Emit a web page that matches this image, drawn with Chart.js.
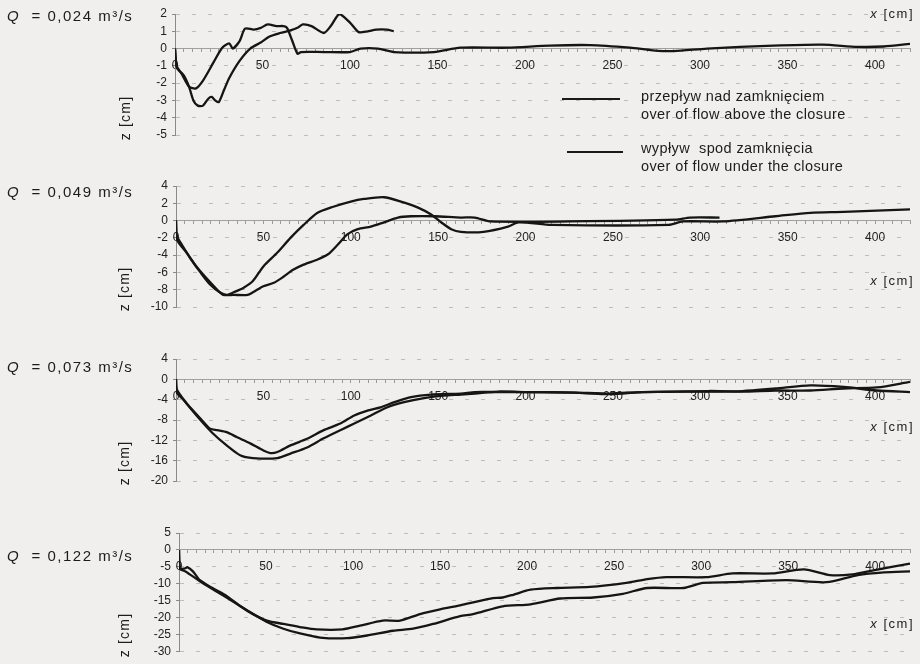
<!DOCTYPE html>
<html>
<head>
<meta charset="utf-8">
<script src="https://cdn.jsdelivr.net/npm/chart.js@4/dist/chart.umd.min.js"></script>
<style>
  body { margin: 0; background: #f0efed; }
  #wrap { position: relative; width: 920px; height: 664px; overflow: hidden;
          font-family: "Liberation Sans", Arial, sans-serif; color: #1c1c1c; }
  #wrap canvas { position: absolute; left: 0; }
  .q { position: absolute; left: 7px; font-size: 15px; letter-spacing: 1.5px; white-space: pre; line-height: 18px; }
  .xl { position: absolute; right: 6px; font-size: 13px; letter-spacing: 1.5px; white-space: pre; line-height: 16px; }
  .zl { position: absolute; width: 60px; text-align: center; font-size: 14px; letter-spacing: 1.2px;
        white-space: pre; line-height: 16px; transform: rotate(-90deg); }
  .leg { position: absolute; left: 641px; font-size: 14.5px; letter-spacing: 0.4px; line-height: 18px; white-space: pre; }
  .seg { position: absolute; height: 2px; background: #1a1a1a; }
</style>
</head>
<body>
<div id="wrap">
  <canvas id="c1" width="920" height="170" style="top:0px"></canvas>
  <canvas id="c2" width="920" height="170" style="top:170px"></canvas>
  <canvas id="c3" width="920" height="160" style="top:340px"></canvas>
  <canvas id="c4" width="920" height="164" style="top:500px"></canvas>

  <div class="q" style="top:7px"><i>Q</i>  = 0,024 m³/s</div>
  <div class="q" style="top:183px"><i>Q</i>  = 0,049 m³/s</div>
  <div class="q" style="top:358px"><i>Q</i>  = 0,073 m³/s</div>
  <div class="q" style="top:547px"><i>Q</i>  = 0,122 m³/s</div>

  <div class="xl" style="top:6px"><i>x</i> [cm]</div>
  <div class="xl" style="top:273px"><i>x</i> [cm]</div>
  <div class="xl" style="top:419px"><i>x</i> [cm]</div>
  <div class="xl" style="top:616px"><i>x</i> [cm]</div>

  <div class="zl" style="left:95px;top:110px">z [cm]</div>
  <div class="zl" style="left:94px;top:281px">z [cm]</div>
  <div class="zl" style="left:94px;top:455px">z [cm]</div>
  <div class="zl" style="left:94px;top:627px">z [cm]</div>

  <div class="seg" style="left:562px;top:98px;width:58px"></div>
  <div class="leg" style="top:87px">przepływ nad zamknięciem</div>
  <div class="leg" style="top:105px">over of flow above the closure</div>
  <div class="seg" style="left:567px;top:151px;width:56px"></div>
  <div class="leg" style="top:139px">wypływ  spod zamknięcia</div>
  <div class="leg" style="top:157px">over of flow under the closure</div>
</div>

<script>
// x in cm, z in cm

// Q = 0,024 m3/s
const p1AboveX = [0, 1, 4, 8, 12, 16, 22, 27, 31, 33, 37, 40, 45, 49, 53, 58, 62, 64, 67, 70,
  72, 85, 100, 106, 116, 125, 148, 163, 190, 214, 237, 260, 273, 285, 304, 342, 370, 390, 405, 420];
const p1AboveZ = [0, -1.0, -1.5, -2.2, -2.3, -1.85, -0.8, 0.05, 0.3, 0, 0.45, 1.15, 1.1, 1.2, 1.4, 1.3, 1.3, 1.2, 0.45, -0.3,
  -0.2, -0.2, -0.2, 0, 0, -0.2, -0.2, 0.05, 0.05, 0.17, 0.2, 0.05, -0.1, -0.15, 0, 0.17, 0.23, 0.1, 0.12, 0.27];
const p1UnderX = [0, 1, 5, 8, 10.5, 13, 16, 19, 21, 23, 25, 28, 31, 37, 43, 49, 54, 60, 66, 70,
  73, 78, 85, 89, 94, 100, 105, 110, 115, 121, 125];
const p1UnderZ = [0, -1.1, -1.55, -2.2, -3.0, -3.3, -3.3, -2.9, -2.8, -3.0, -3.1, -2.4, -1.7, -0.7, 0, 0.35, 0.7, 0.9, 1.05, 1.2,
  1.4, 1.3, 0.9, 1.3, 2.0, 1.5, 0.95, 1.0, 1.1, 1.1, 1.0];

// Q = 0,049 m3/s
const p2AboveX = [0, 0.5, 3.4, 8, 14, 19.5, 25, 29, 33, 38.5, 44, 50, 58, 65.5, 73, 81, 90, 100, 107.5, 119,
  128.7, 138.5, 146, 151.7, 157.5, 163, 176, 190, 196, 215, 282, 290, 313, 343, 363, 382, 420];
const p2AboveZ = [0, -1.8, -2.8, -4.3, -6, -7.4, -8.3, -8.6, -8.3, -7.8, -7, -5.3, -3.7, -2, -0.5, 0.9, 1.6, 2.2, 2.5, 2.7,
  2.2, 1.5, 0.7, -0.2, -1.0, -1.3, -1.3, -0.7, -0.2, -0.5, -0.5, -0.1, -0.1, 0.5, 0.9, 1.0, 1.3];
const p2UnderX = [0, 0.5, 6, 12, 18, 23.6, 27, 33, 41, 44, 50, 56, 61.5, 67, 73, 81, 87, 92.5, 98, 104,
  111.5, 119, 127, 134.5, 148, 163, 171, 180, 225, 286, 294, 311];
const p2UnderZ = [0, -2.2, -3.7, -5.4, -6.8, -8, -8.6, -8.6, -8.6, -8.3, -7.6, -7.2, -6.5, -5.7, -5.1, -4.5, -3.9, -2.8, -1.6, -1.0,
  -0.7, -0.2, 0.35, 0.5, 0.5, 0.35, 0.35, -0.1, -0.1, 0.1, 0.35, 0.35];

// Q = 0,073 m3/s
const p3AboveX = [0, 0.5, 3.4, 8, 14, 19.5, 23.6, 29, 35, 42.5, 50, 54, 58, 65.5, 75, 84.5, 94, 102, 110, 117,
  125, 134.5, 146, 163, 171, 184, 200, 228, 248, 267, 305, 324, 343, 363, 382, 401, 420];
const p3AboveZ = [0, -2.6, -3.7, -5.5, -7.7, -9.7, -10, -10.4, -11.4, -12.6, -14, -14.5, -14.3, -13, -11.7, -10, -8.7, -7.1, -6.1, -5.5,
  -4.5, -3.5, -3, -2.8, -2.5, -2.5, -2.5, -2.6, -2.8, -2.5, -2.4, -2.3, -1.8, -1.2, -1.5, -2.2, -2.5];
const p3UnderX = [0, 0.5, 6, 14, 21, 29, 37, 44, 58, 65.5, 75, 84.5, 94, 102, 111.5, 121, 130.5, 142, 153, 163,
  171, 184, 200, 228, 248, 267, 305, 324, 343, 363, 382, 401, 420];
const p3UnderZ = [0, -2.0, -4.7, -8, -10.6, -13, -15, -15.5, -15.5, -14.6, -13.4, -11.6, -10, -8.7, -7.1, -5.5, -4.5, -3.7, -3.2, -3.0,
  -2.8, -2.4, -2.5, -2.6, -2.9, -2.5, -2.3, -2.4, -2.2, -2.2, -1.8, -1.6, -0.5];

// Q = 0,122 m3/s
const p4AboveX = [0, 0.5, 3, 5, 8, 12, 19.5, 27.5, 35, 42.5, 50.5, 60, 69.5, 79, 94, 104, 117, 127, 138.5, 150,
  161.5, 179, 186, 192, 202, 217, 236, 257, 269, 280, 303, 318, 341, 359, 374, 387, 399, 420];
const p4AboveZ = [0, -5.5, -5.5, -5.1, -6.3, -8.9, -11.3, -13.6, -16.5, -18.9, -20.8, -21.8, -22.7, -23.4, -23.4, -22.3, -20.8, -20.8, -18.9, -17.5,
  -16.3, -14.3, -14, -13.2, -11.7, -11.2, -10.9, -9.7, -8.6, -8, -8, -6.9, -6.9, -5.7, -7.4, -7.2, -6.0, -4.0];
const p4UnderX = [0, 0.5, 4, 12, 21.8, 31, 40.8, 50.5, 60, 69.5, 81, 96.5, 108, 123, 134.5, 146, 161.5, 169, 186, 202,
  219, 238, 255, 269, 290, 301, 318, 349, 372, 390, 405, 420];
const p4UnderZ = [0, -5.5, -6.4, -9.2, -12.3, -15.2, -18.3, -21.2, -23.2, -24.6, -25.8, -26, -25.2, -23.8, -23.2, -21.8, -19.5, -18.9, -16.6, -16,
  -14.3, -14, -12.9, -11.2, -11.2, -9.7, -9.5, -8.9, -9.5, -7.4, -6.6, -6.3];

// axis ranges per panel: min, max, step
const yRanges = [[-5, 2, 1], [-10, 4, 2], [-20, 4, 4], [-30, 5, 5]];
const xMax = 420;
const xLabelStep = 50;

const LINE = "#151515";

function pts(xs, zs) {
  return xs.map((x, i) => ({ x: x, y: zs[i] }));
}

function makePanel(id, aboveX, aboveZ, underX, underZ, range, pad, axisLeft) {
  const ctx = document.getElementById(id).getContext("2d");
  return new Chart(ctx, {
    type: "line",
    data: {
      datasets: [
        { label: "przepływ nad zamknięciem", data: pts(aboveX, aboveZ),
          borderColor: LINE, borderWidth: 2.3, pointRadius: 0, tension: 0.25, fill: false },
        { label: "wypływ spod zamknięcia", data: pts(underX, underZ),
          borderColor: LINE, borderWidth: 2.3, pointRadius: 0, tension: 0.25, fill: false }
      ]
    },
    options: {
      responsive: false,
      animation: false,
      layout: { padding: { left: 0, right: 10, top: pad[0], bottom: pad[1] } },
      plugins: { legend: { display: false }, tooltip: { enabled: false } },
      scales: {
        x: {
          type: "linear",
          min: 0,
          max: xMax,
          position: { y: 0 },
          grid: { drawOnChartArea: false, tickLength: 3, color: "#9a9a9a" },
          border: { color: "#a0a0a0", width: 1 },
          ticks: {
            stepSize: 5, autoSkip: false, maxRotation: 0, padding: 7,
            color: "#222", font: { family: "Liberation Sans", size: 12 },
            callback: v => (v % xLabelStep === 0 ? v : "")
          }
        },
        y: {
          min: range[0],
          max: range[1],
          afterFit: s => { s.width = axisLeft; },
          grid: { color: "#bdbdbd", tickLength: 3, tickColor: "#8a8a8a" },
          border: { color: "#8a8a8a", width: 1, dash: [4, 12] },
          ticks: {
            stepSize: range[2], padding: 5, autoSkip: false,
            color: "#222", font: { family: "Liberation Sans", size: 12 }
          }
        }
      }
    }
  });
}

makePanel("c1", p1AboveX, p1AboveZ, p1UnderX, p1UnderZ, yRanges[0], [14, 35], 175);
makePanel("c2", p2AboveX, p2AboveZ, p2UnderX, p2UnderZ, yRanges[1], [16, 33], 176);
makePanel("c3", p3AboveX, p3AboveZ, p3UnderX, p3UnderZ, yRanges[2], [19, 19], 176);
makePanel("c4", p4AboveX, p4AboveZ, p4UnderX, p4UnderZ, yRanges[3], [33, 9], 179);
</script>
</body>
</html>
